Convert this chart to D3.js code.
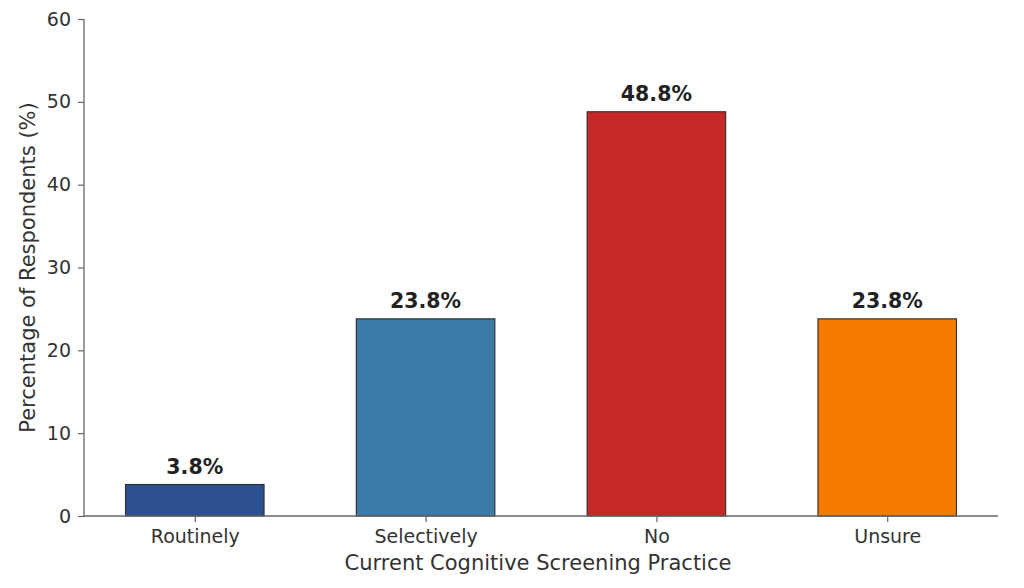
<!DOCTYPE html>
<html><head><meta charset="utf-8">
<script src="https://cdn.jsdelivr.net/npm/d3@7"></script>
<style>body{margin:0;background:#fff}svg{display:block}</style>
</head><body><svg id="c" width="1024" height="588"></svg>
<script>
const categories = ["Routinely","Selectively","No","Unsure"];
const values = [3.8, 23.8, 48.8, 23.8];
const colors = ["#2c4f8f","#3a7ba8","#c62828","#f57c00"];
const yTicks = [0,10,20,30,40,50,60];

const svg = d3.select("#c");
const mLeft=84, mRight=998, mTop=19, mBottom=516;
const x = d3.scaleLinear().domain([-0.48,3.48]).range([mLeft,mRight]);
const y = d3.scaleLinear().domain([0,60]).range([mBottom,mTop]);
const bw = 0.6;
const font = "DejaVu Sans, sans-serif";

svg.selectAll("rect.bar").data(values).enter().append("rect")
  .attr("x",(d,i)=>x(i-bw/2)).attr("width",(d,i)=>x(i+bw/2)-x(i-bw/2))
  .attr("y",d=>y(d)).attr("height",d=>y(0)-y(d))
  .attr("fill",(d,i)=>colors[i]).attr("stroke","#333").attr("stroke-width",1.2);

svg.selectAll("text.val").data(values).enter().append("text")
  .attr("x",(d,i)=>x(i)).attr("y",d=>y(d)-11)
  .attr("text-anchor","middle").attr("font-family",font).attr("font-weight","bold")
  .attr("font-size",20.5).attr("fill","#222").text(d=>d.toFixed(1)+"%");

const yAxis = svg.append("g").attr("transform",`translate(${mLeft},0)`)
  .call(d3.axisLeft(y).tickValues(yTicks).tickSize(6).tickPadding(7));
const xAxis = svg.append("g").attr("transform",`translate(0,${mBottom})`)
  .call(d3.axisBottom(x).tickValues(d3.range(categories.length)).tickFormat(i=>categories[i]).tickSize(6).tickPadding(8));
[yAxis,xAxis].forEach(g=>{
  g.selectAll("path.domain").attr("stroke","#666").attr("stroke-width",1.3);
  g.selectAll(".tick line").attr("stroke","#666").attr("stroke-width",1.2);
  g.selectAll(".tick text").attr("font-family",font).attr("font-size",19).attr("fill","#333");
});
xAxis.select("path.domain").attr("d",`M${mLeft},0H${mRight}`);
yAxis.select("path.domain").attr("d",`M0,${mBottom}V${mTop}`);

svg.append("text").attr("x",(mLeft+mRight)/2 - 3).attr("y",570).attr("text-anchor","middle")
  .attr("font-family",font).attr("font-size",21).attr("fill","#333")
  .text("Current Cognitive Screening Practice");
svg.append("text").attr("transform",`translate(35,${(mTop+mBottom)/2}) rotate(-90)`)
  .attr("text-anchor","middle").attr("font-family",font).attr("font-size",21).attr("fill","#333")
  .text("Percentage of Respondents (%)");
</script></body></html>
